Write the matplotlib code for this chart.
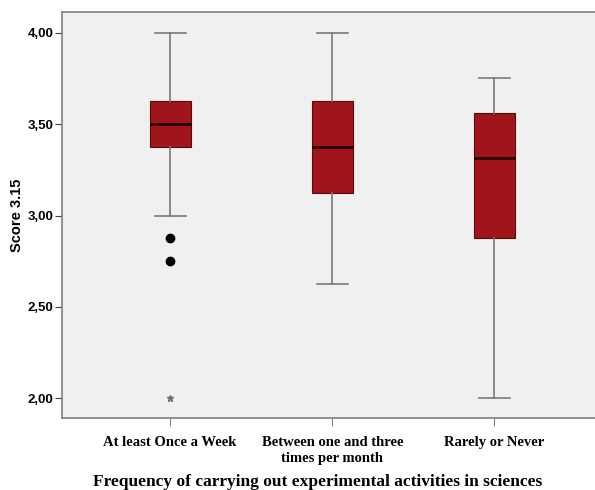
import matplotlib.pyplot as plt
from matplotlib.ticker import FuncFormatter

categories = ['At least Once a Week', 'Between one and three\ntimes per month', 'Rarely or Never']
q1 = [3.375, 3.125, 2.875]
med = [3.50, 3.375, 3.3125]
q3 = [3.625, 3.625, 3.5625]
whislo = [3.00, 2.625, 2.00]
whishi = [4.00, 4.00, 3.75]
outliers = [[2.875, 2.75], [], []]
extremes = [[2.00], [], []]

stats = []
for i in range(len(categories)):
    stats.append(dict(q1=q1[i], med=med[i], q3=q3[i], whislo=whislo[i],
                      whishi=whishi[i], fliers=outliers[i], label=categories[i]))

fig = plt.figure(figsize=(5.95, 4.9), dpi=100)
ax = fig.add_axes([0.1042, 0.147, 0.8958, 0.8285])
ax.set_facecolor('#f0f0f0')

pos = [1, 2, 3]
ax.bxp(stats, positions=pos, widths=0.253, patch_artist=True,
       boxprops=dict(facecolor='#a0151a', edgecolor='#5a0a0c', linewidth=0.8),
       medianprops=dict(color='#2a0000', linewidth=2),
       whiskerprops=dict(color='#7a7a7a', linewidth=1.2),
       capprops=dict(color='#7a7a7a', linewidth=1.2),
       capwidths=0.19,
       flierprops=dict(marker='o', markerfacecolor='black', markeredgecolor='black',
                       markersize=6))

for p, ex in zip(pos, extremes):
    if ex:
        ax.plot([p] * len(ex), ex, linestyle='none', marker='*', color='#707070',
                markersize=5)

ax.set_xlim(0.333, 3.62)
ax.set_ylim(1.893, 4.113)
ax.set_yticks([2.0, 2.5, 3.0, 3.5, 4.0])
ax.yaxis.set_major_formatter(FuncFormatter(lambda v, _: f'{v:.2f}'.replace('.', ',')))

for s in ['top', 'left', 'bottom']:
    ax.spines[s].set_color('#808080')
    ax.spines[s].set_linewidth(1.2)
ax.spines['right'].set_visible(False)

ax.tick_params(axis='y', direction='out', length=5, color='#404040', pad=1)
ax.tick_params(axis='x', direction='out', length=6, color='#808080', pad=7)
for t in ax.get_yticklabels():
    t.set_fontfamily('Liberation Sans')
    t.set_fontweight('bold')
    t.set_fontsize(9.5)
ax.set_xticks(pos)
ax.set_xticklabels(categories, fontfamily='Liberation Serif', fontweight='bold',
                   fontsize=10.5, linespacing=1.25)

fig.text(0.0294, 0.561, 'Score 3.15', rotation=90,
         ha='center', va='center', fontfamily='Liberation Sans', fontweight='bold',
         fontsize=10.5)
fig.text(0.5345, 0.0163, 'Frequency of carrying out experimental activities in sciences',
         ha='center', va='center', fontfamily='Liberation Serif', fontweight='bold',
         fontsize=12.5)

fig.savefig('out.png', dpi=100)
